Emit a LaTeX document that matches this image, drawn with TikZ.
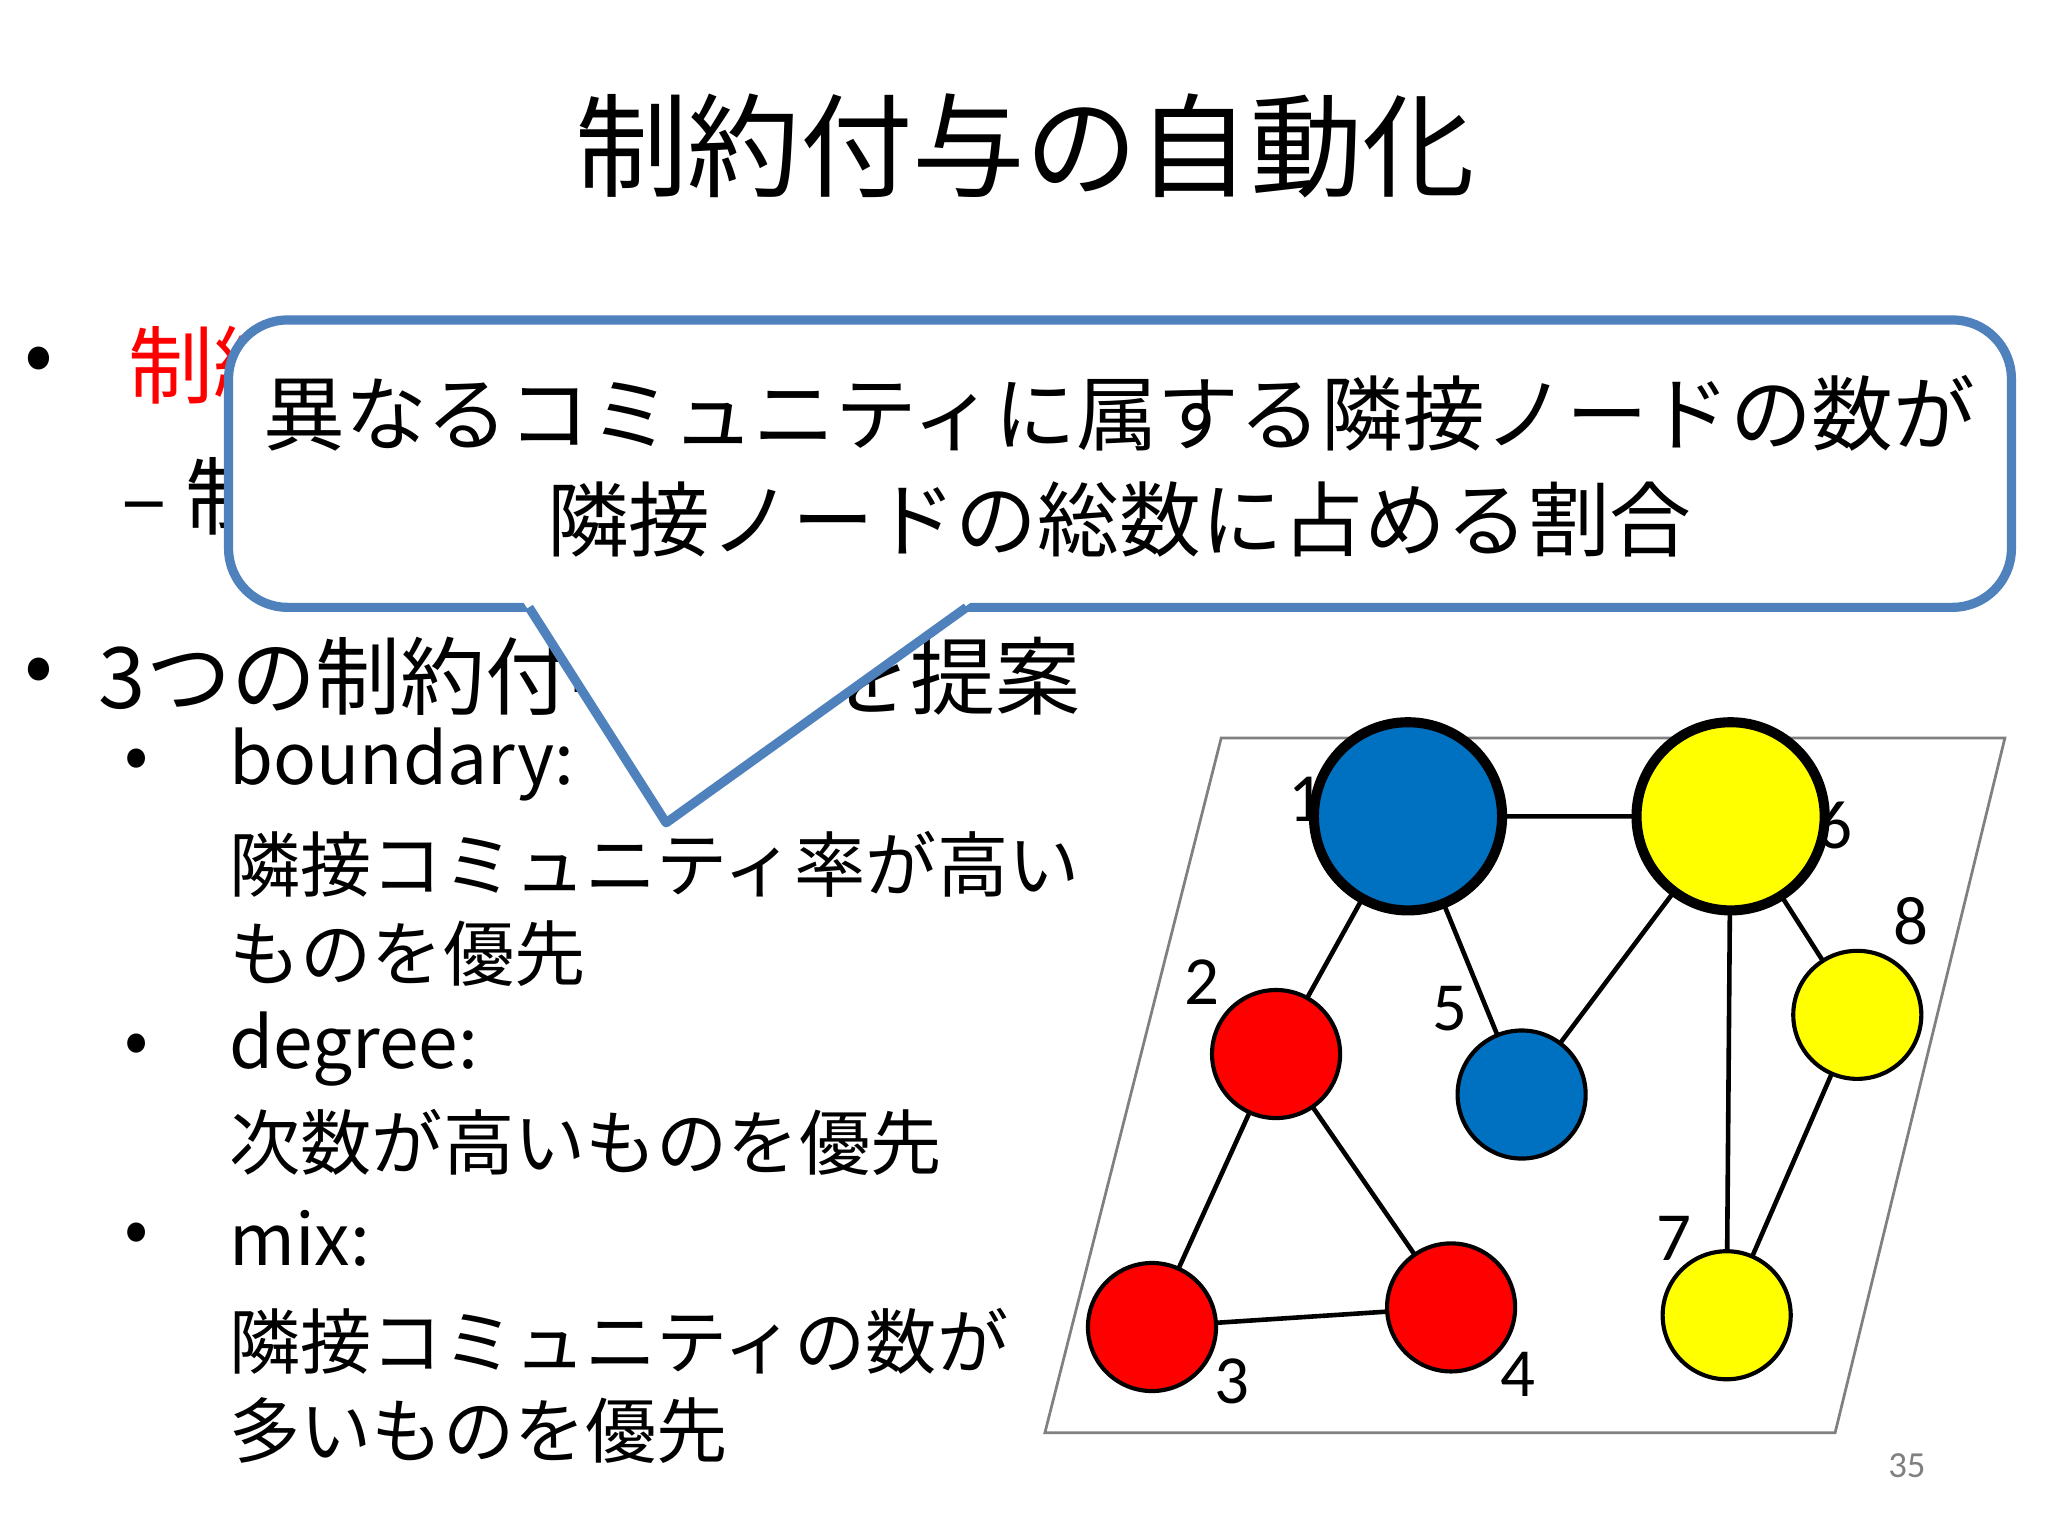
\documentclass[tikz,border=0pt]{standalone}
\usepackage{fontspec}
\setmainfont{Noto Sans CJK JP}
\newfontfamily\numfont{Carlito}
\begin{document}
\begin{tikzpicture}[x=0.01cm,y=-0.01cm,
  txt/.style={anchor=west,inner sep=0pt,font=\fontsize{18.5pt}{22pt}\selectfont},
  sub/.style={anchor=west,inner sep=0pt,font=\fontsize{15.5pt}{18pt}\selectfont},
  big/.style={circle,draw=black,line width=2.2pt,minimum size=1.44cm,inner sep=0pt},
  sml/.style={circle,draw=black,line width=0.9pt,minimum size=0.98cm,inner sep=0pt},
  lab/.style={font=\numfont\fontsize{15pt}{15pt}\selectfont,inner sep=0pt},
  edge/.style={line width=1pt}]
\definecolor{cblue}{RGB}{0,112,192}
\definecolor{cyel}{RGB}{255,255,0}
\definecolor{cred}{RGB}{255,0,0}
\definecolor{cline}{RGB}{79,129,189}
\useasboundingbox[fill=white] (0,0) rectangle (1568,1176);
\node[inner sep=0pt,font=\fontsize{24.5pt}{28pt}\selectfont] (title) at (785,112) {制約付与の自動化};
% bullets
\node[txt] (b1) at (18,280) {•};
\node[txt,text=cred] (t1) at (98,280) {制約};
\node[txt] (t1b) at (92,380) {– 制約};
\node[txt] (b2) at (18,518) {•};
\node[txt] (t2) at (75,518) {3つの制約付与方法を提案};
\node[sub] (s1) at (95,585) {•};
\node[sub] (s1a) at (175,585) {boundary:};
\node[sub] (s1b) at (175,662) {隣接コミュニティ率が高い};
\node[sub] (s1c) at (175,730) {ものを優先};
\node[sub] (s2) at (95,803) {•};
\node[sub] (s2a) at (175,803) {degree:};
\node[sub] (s2b) at (175,875) {次数が高いものを優先};
\node[sub] (s3) at (95,948) {•};
\node[sub] (s3a) at (175,948) {mix:};
\node[sub] (s3b) at (175,1027) {隣接コミュニティの数が};
\node[sub] (s3c) at (175,1095) {多いものを優先};
% graph frame
\draw[gray,line width=0.6pt] (935,565) -- (1535,565) -- (1405,1097) -- (800,1097) -- cycle;
\node[lab] (l1) at (1000,612) {1};
\node[lab] (l6) at (1405,632) {6};
\node[lab] (l8) at (1463,705) {8};
\node[lab] (l2) at (920,752) {2};
\node[lab] (l5) at (1110,772) {5};
\node[lab] (l7) at (1282,948) {7};
\node[lab] (l3) at (943,1058) {3};
\node[lab] (l4) at (1162,1052) {4};
\coordinate (p1) at (1078,625); \coordinate (p6) at (1325,625);
\coordinate (p2) at (977,807); \coordinate (p5) at (1165,838);
\coordinate (p8) at (1422,777); \coordinate (p3) at (882,1016);
\coordinate (p4) at (1111,1001); \coordinate (p7) at (1322,1007);
\draw[edge] (p1)--(p6) (p1)--(p2) (p1)--(p5) (p5)--(p6) (p6)--(p8) (p6)--(p7) (p2)--(p3) (p2)--(p4) (p3)--(p4) (p8)--(p7);
\node[big,fill=cblue] (n1) at (p1) {};
\node[big,fill=cyel] (n6) at (p6) {};
\node[sml,fill=cred] (n2) at (p2) {};
\node[sml,fill=cblue] (n5) at (p5) {};
\node[sml,fill=cyel] (n8) at (p8) {};
\node[sml,fill=cred] (n3) at (p3) {};
\node[sml,fill=cred] (n4) at (p4) {};
\node[sml,fill=cyel] (n7) at (p7) {};
\node[inner sep=0pt,text=gray,font=\numfont\fontsize{8pt}{8pt}\selectfont] (pg) at (1460,1122) {35};
% callout
\draw[cline,line width=2pt,fill=white,rounded corners=0.45cm] (175,245) rectangle (1540,465);
\fill[white] (400,460) -- (510,630) -- (745,460) -- cycle;
\draw[cline,line width=2pt,line join=round] (405,465) -- (510,630) -- (740,465);
\node[align=center,inner sep=0pt,font=\fontsize{17.8pt}{23pt}\selectfont] (call) at (857,357)
  {異なるコミュニティに属する隣接ノードの数が\\隣接ノードの総数に占める割合};
\end{tikzpicture}
\end{document}
